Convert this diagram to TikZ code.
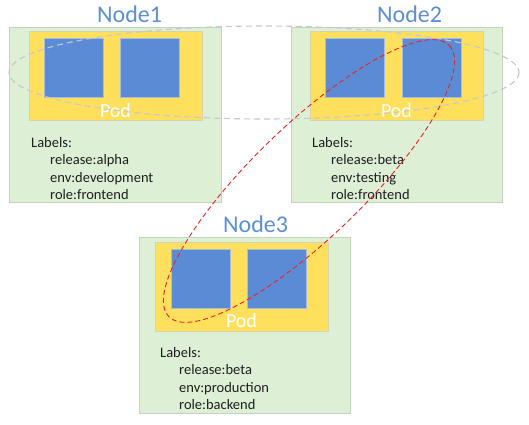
\documentclass[tikz,border=0pt]{standalone}
\usepackage{fontspec}
\setmainfont{Carlito}
\definecolor{nodegreen}{HTML}{DDF0D6}
\definecolor{nodegreenline}{HTML}{C3D3BE}
\definecolor{podyellow}{HTML}{FFE05C}
\definecolor{podline}{HTML}{D9D2B0}
\definecolor{ctblue}{HTML}{5B8BD5}
\definecolor{ctline}{HTML}{A9BCDD}
\definecolor{titleblue}{HTML}{5B8FD6}
\definecolor{labeltext}{HTML}{1E1E1E}
\definecolor{selgrey}{HTML}{C8C8C8}
\definecolor{selred}{HTML}{F02020}
\begin{document}
\begin{tikzpicture}[x=1pt,y=-1pt,
  greenbox/.style={draw=nodegreenline,fill=nodegreen,line width=0.8pt,minimum width=211pt,minimum height=175pt,inner sep=0pt},
  podbox/.style={draw=podline,fill=podyellow,line width=0.8pt,minimum width=173pt,minimum height=89pt,inner sep=0pt},
  ctbox/.style={draw=ctline,fill=ctblue,line width=0.6pt,minimum width=59pt,minimum height=59pt,inner sep=0pt},
  nodetitle/.style={text=titleblue,font=\fontsize{24}{28}\selectfont,anchor=base west,inner sep=0pt},
  podtext/.style={text=white,font=\fontsize{20}{24}\selectfont,anchor=base,inner sep=0pt},
  labeltxt/.style={text=labeltext,font=\fontsize{14.5}{17}\selectfont,anchor=base west,inner sep=0pt},
  greysel/.style={draw=selgrey,line width=1.1pt,dash pattern=on 6pt off 4pt},
  redsel/.style={draw=selred,line width=0.9pt,dash pattern=on 5pt off 3pt}]
\useasboundingbox[fill=white] (0,0) rectangle (529,424);

% Node 1
\node[greenbox,minimum width=212pt] (n1) at (115,114.5) {};
\node[podbox] (p1) at (115.5,75.5) {};
\node[ctbox] (c1a) at (73.5,67.5) {};
\node[ctbox] (c1b) at (150,67.5) {};
\node[podtext] (pt1) at (115.5,117) {Pod};
\node[nodetitle] (t1) at (97,22) {Node1};
\node[labeltxt] (l1) at (31,147) {Labels:};
\node[labeltxt] (l1a) at (50,164.5) {release:alpha};
\node[labeltxt] (l1b) at (50,182) {env:development};
\node[labeltxt] (l1c) at (50,199) {role:frontend};

% Node 2
\node[greenbox] (n2) at (396.5,114.5) {};
\node[podbox] (p2) at (396.5,75.5) {};
\node[ctbox] (c2a) at (355,67.5) {};
\node[ctbox] (c2b) at (431.5,67.5) {};
\node[podtext] (pt2) at (396.5,117) {Pod};
\node[nodetitle] (t2) at (377,22) {Node2};
\node[labeltxt] (l2) at (312,147) {Labels:};
\node[labeltxt] (l2a) at (331,164.5) {release:beta};
\node[labeltxt] (l2b) at (331,182) {env:testing};
\node[labeltxt] (l2c) at (331,199) {role:frontend};

% Node 3
\node[greenbox,minimum height=176pt] (n3) at (244.5,325) {};
\node[podbox] (p3) at (241.5,286.5) {};
\node[ctbox] (c3a) at (200.5,278.5) {};
\node[ctbox] (c3b) at (276.5,278.5) {};
\node[podtext] (pt3) at (241.5,327) {Pod};
\node[nodetitle] (t3) at (223,232) {Node3};
\node[labeltxt] (l3) at (160,357) {Labels:};
\node[labeltxt] (l3a) at (179,374.5) {release:beta};
\node[labeltxt] (l3b) at (179,392) {env:production};
\node[labeltxt] (l3c) at (179,409) {role:backend};

% selectors
\draw[greysel] (264,72.5) ellipse [x radius=255, y radius=46.5];
\draw[redsel] (309,181) ellipse [x radius=195, y radius=56, rotate=44];
\end{tikzpicture}
\end{document}
